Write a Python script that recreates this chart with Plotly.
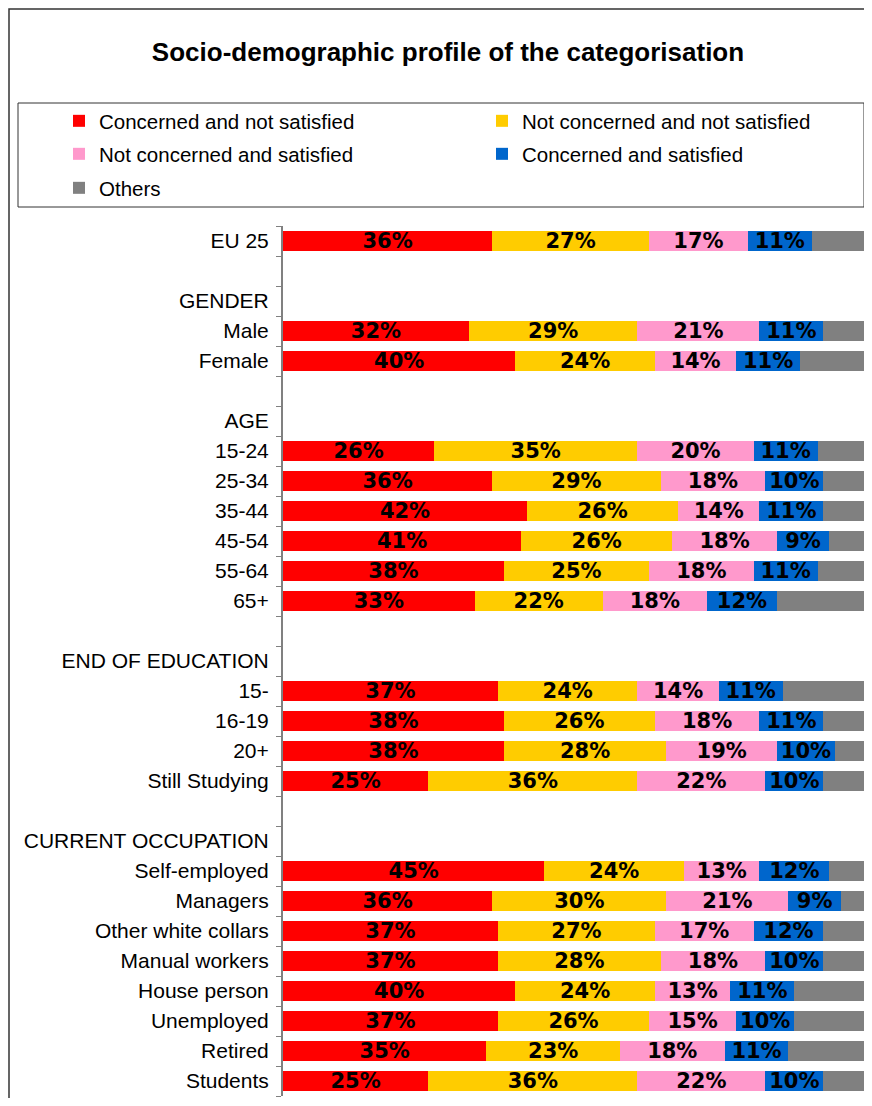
import plotly.graph_objects as go

# ---- data ----
row_labels = ["EU 25", "Male", "Female", "15-24", "25-34", "35-44", "45-54", "55-64", "65+",
              "15-", "16-19", "20+", "Still Studying", "Self-employed", "Managers",
              "Other white collars", "Manual workers", "House person", "Unemployed", "Retired", "Students"]

# full category order on the axis (headers and blank spacer rows included)
axis_categories = ["EU 25", " ", "GENDER", "Male", "Female", "  ", "AGE", "15-24", "25-34", "35-44",
                   "45-54", "55-64", "65+", "   ", "END OF EDUCATION", "15-", "16-19", "20+",
                   "Still Studying", "    ", "CURRENT OCCUPATION", "Self-employed", "Managers",
                   "Other white collars", "Manual workers", "House person", "Unemployed", "Retired", "Students"]

concerned_not_satisfied = [36, 32, 40, 26, 36, 42, 41, 38, 33, 37, 38, 38, 25, 45, 36, 37, 37, 40, 37, 35, 25]
not_concerned_not_satisfied = [27, 29, 24, 35, 29, 26, 26, 25, 22, 24, 26, 28, 36, 24, 30, 27, 28, 24, 26, 23, 36]
not_concerned_satisfied = [17, 21, 14, 20, 18, 14, 18, 18, 18, 14, 18, 19, 22, 13, 21, 17, 18, 13, 15, 18, 22]
concerned_satisfied = [11, 11, 11, 11, 10, 11, 9, 11, 12, 11, 11, 10, 10, 12, 9, 12, 10, 11, 10, 11, 10]
others = [9, 7, 11, 8, 7, 7, 6, 8, 15, 14, 7, 5, 7, 6, 4, 7, 7, 12, 12, 13, 7]

series_names = ["Concerned and not satisfied", "Not concerned and not satisfied",
                "Not concerned and satisfied", "Concerned and satisfied", "Others"]
series_values = [concerned_not_satisfied, not_concerned_not_satisfied,
                 not_concerned_satisfied, concerned_satisfied, others]
series_colors = ["#FF0000", "#FFCC00", "#FF99CC", "#0066CC", "#808080"]
series_labelled = [True, True, True, True, False]

# ---- layout geometry ----
# The page body has an 8px margin, so the figure is drawn 8px right/down;
# positions below are given in window pixels and converted.
OFF = 8
W, H = 872 - 2 * OFF, 1106 - 2 * OFF
PLOT_L, PLOT_R, PLOT_T, PLOT_B = 283, 864, 226, 1096  # window pixels
ML = PLOT_L - OFF
MR = (OFF + W) - PLOT_R
MT = PLOT_T - OFF
MB = (OFF + H) - PLOT_B
PW = W - ML - MR
PH = H - MT - MB


def px_x(x):
    return (x - OFF - ML) / PW


def px_y(y):
    return 1 + (MT - (y - OFF)) / PH


fig = go.Figure()
legend_ids = ["legend", "legend2", "legend3", "legend4", "legend5"]
for name, vals, col, lab, lg in zip(series_names, series_values, series_colors, series_labelled, legend_ids):
    fig.add_trace(go.Bar(
        name=name,
        y=row_labels,
        x=vals,
        orientation="h",
        marker=dict(color=col, line=dict(width=0)),
        text=[f"{v}%" for v in vals] if lab else None,
        textposition="inside" if lab else "none",
        insidetextanchor="middle",
        constraintext="none",
        textfont=dict(family="DejaVu Sans", size=21, color="black", weight="bold"),
        hoverinfo="skip",
        legend=lg,
    ))

legend_font = dict(family="Liberation Sans, Arial, sans-serif", size=20.5, color="black")
leg_positions = [(59, 121), (482, 121), (59, 154), (482, 154), (59, 188)]
legend_layouts = {}
for lg, (lx, ly) in zip(legend_ids, leg_positions):
    legend_layouts[lg] = dict(
        x=px_x(lx), xanchor="left", y=px_y(ly), yanchor="middle",
        orientation="h", font=legend_font, bgcolor="rgba(0,0,0,0)",
        borderwidth=0, itemclick=False, itemdoubleclick=False,
    )

fig.update_layout(
    width=W, height=H,
    margin=dict(l=ML, r=MR, t=MT, b=MB, autoexpand=False),
    paper_bgcolor="white", plot_bgcolor="white",
    barmode="stack",
    bargap=0.33,
    showlegend=True,
    title=dict(
        text="<b>Socio-demographic profile of the categorisation</b>",
        font=dict(family="Liberation Sans, Arial, sans-serif", size=26, color="black"),
        xref="container", x=(448 - OFF) / W, xanchor="center",
        yref="container", y=1 - (52 - OFF) / H, yanchor="middle",
    ),
    xaxis=dict(range=[0, 100], visible=False, fixedrange=True),
    yaxis=dict(
        type="category",
        categoryorder="array", categoryarray=axis_categories,
        tickmode="array", tickvals=axis_categories, ticktext=axis_categories,
        range=[len(axis_categories) - 0.5, -0.5],
        tickson="boundaries",
        ticks="outside", ticklen=5, tickcolor="#808080", tickwidth=1,
        showline=True, linecolor="#808080", linewidth=2,
        showgrid=False, zeroline=False,
        tickfont=dict(family="Liberation Sans, Arial, sans-serif", size=21, color="black"),
        ticklabelstandoff=8,
        fixedrange=True,
    ),
    shapes=[
        # outer chart border (cut off at right and bottom like the reference)
        dict(type="rect", xref="paper", yref="paper",
             x0=px_x(9), x1=px_x(900), y0=px_y(1130), y1=px_y(9),
             line=dict(color="#333333", width=1.5), fillcolor="rgba(0,0,0,0)", layer="below"),
        # legend box
        dict(type="rect", xref="paper", yref="paper",
             x0=px_x(18), x1=px_x(864), y0=px_y(207), y1=px_y(103),
             line=dict(color="#333333", width=1), fillcolor="rgba(0,0,0,0)", layer="below"),
    ],
    **legend_layouts,
)

fig.write_html("out.html")
